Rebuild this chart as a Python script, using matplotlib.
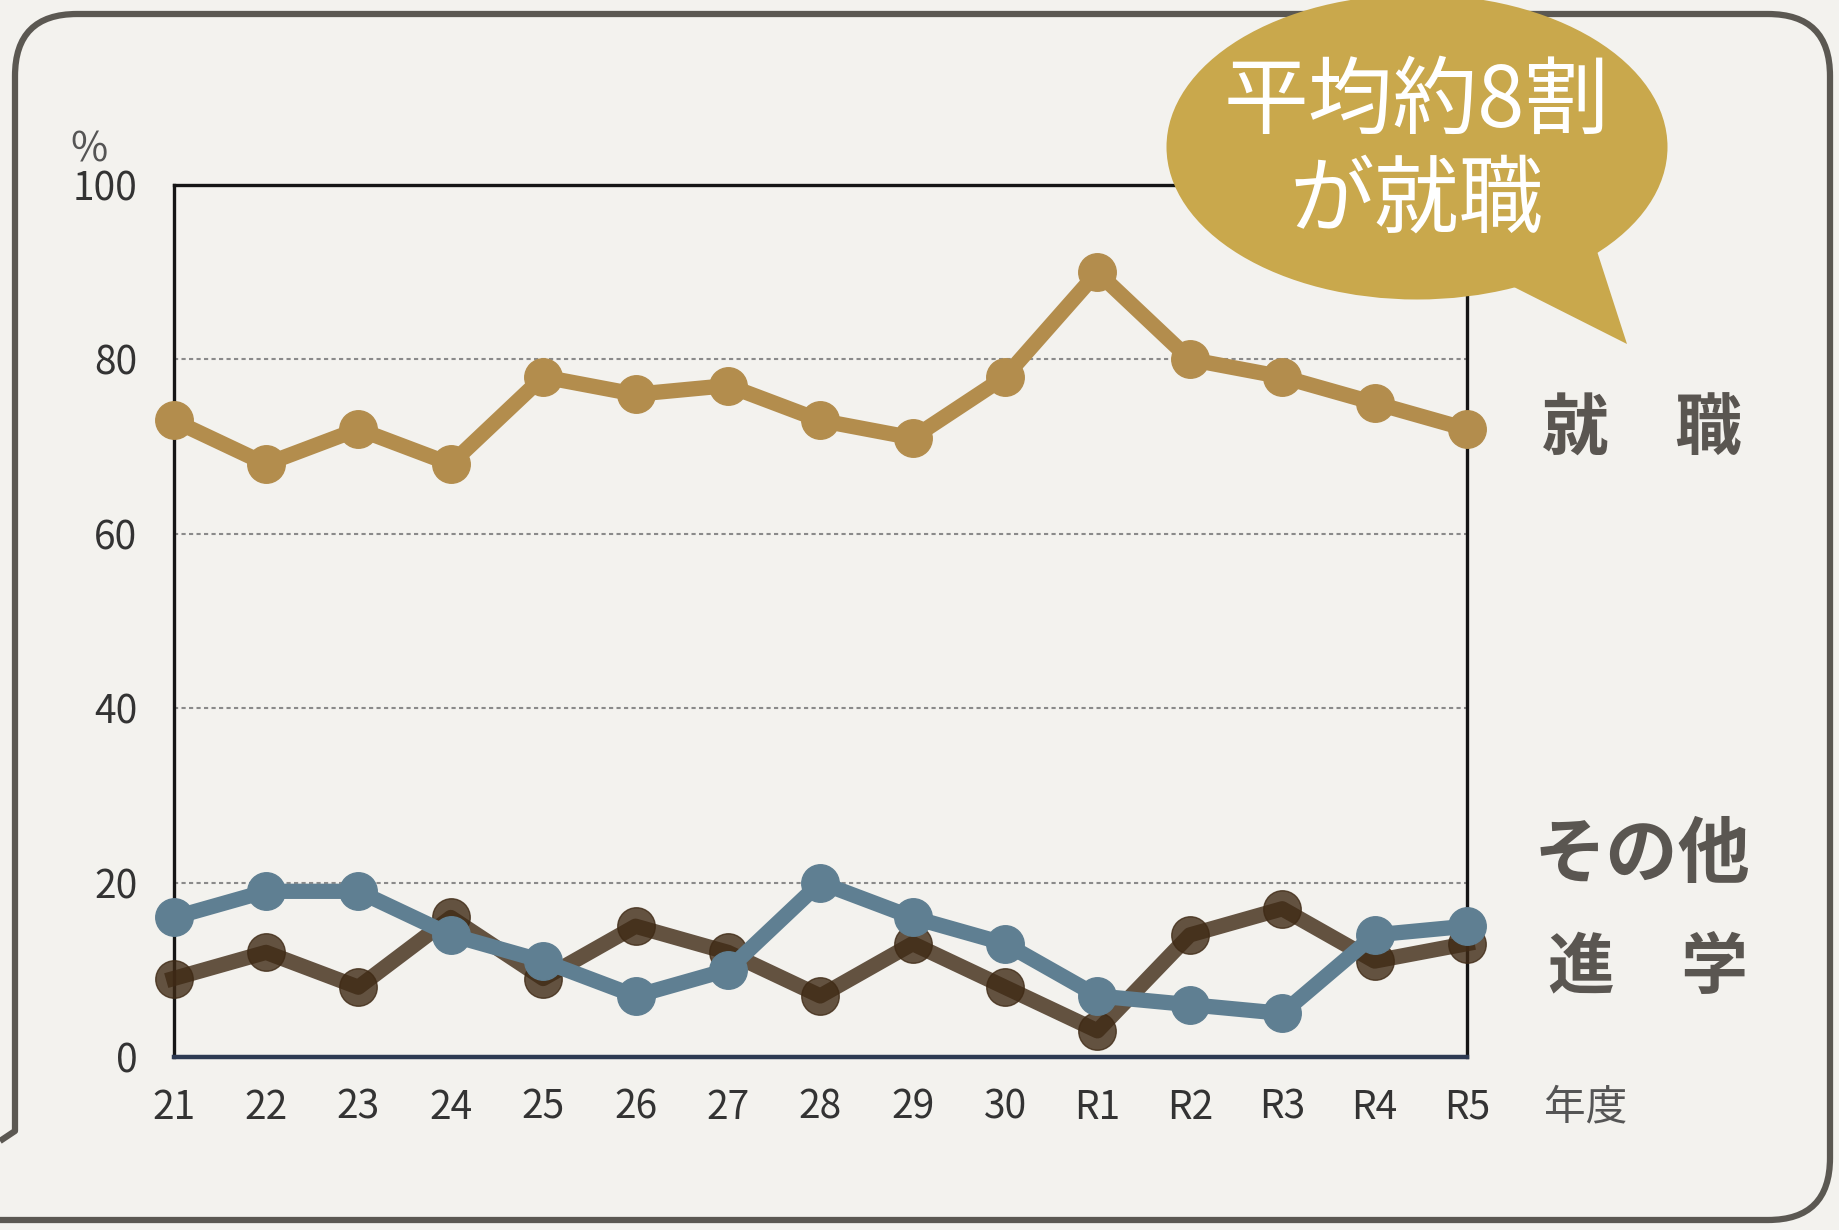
import numpy as np
import matplotlib.pyplot as plt
from matplotlib.patches import Ellipse, Polygon, PathPatch
from matplotlib.path import Path

plt.rcParams['font.family'] = ['Noto Sans CJK JP', 'DejaVu Sans']

# 年度ごとの進路 (%)
years = ['21', '22', '23', '24', '25', '26', '27', '28', '29', '30',
         'R1', 'R2', 'R3', 'R4', 'R5']
shushoku = [73, 68, 72, 68, 78, 76, 77, 73, 71, 78, 90, 80, 78, 75, 72]
shingaku = [9, 12, 8, 16, 9, 15, 12, 7, 13, 8, 3, 14, 17, 11, 13]
sonota = [16, 19, 19, 14, 11, 7, 10, 20, 16, 13, 7, 6, 5, 14, 15]
yticks = [0, 20, 40, 60, 80, 100]

W, H = 1839, 1230
bg = '#f3f2ee'
frame_col = '#5b5852'
gold = '#b38d4d'
brown = '#3f2a15'
blue = '#5f7f92'
bubble = '#c9a84c'
label_col = '#5a5651'

fig = plt.figure(figsize=(W / 100, H / 100), dpi=100, facecolor=bg)

# メインのグラフ
ax = fig.add_axes([173.6 / W, 1 - 1057 / H, (1467 - 173.6) / W, (1057 - 185) / H])
ax.set_facecolor('none')
x = np.arange(len(years))
ax.plot(x, shingaku, color=brown, alpha=0.8, lw=11, marker='o', ms=27,
        clip_on=False, zorder=3)
ax.plot(x, sonota, color=blue, lw=11, marker='o', ms=27,
        clip_on=False, zorder=4)
ax.plot(x, shushoku, color=gold, lw=11, marker='o', ms=27,
        clip_on=False, zorder=5)

ax.set_xlim(0, len(years) - 1)
ax.set_ylim(0, 100)
ax.set_xticks(x)
ax.set_xticklabels(years)
ax.set_yticks(yticks)
ax.tick_params(length=0, labelsize=28, colors='#333333')
ax.tick_params(axis='x', pad=22)
ax.tick_params(axis='y', pad=26)
ax.grid(axis='y', color='#8a8a8a', lw=1.5, linestyle=(0, (2, 1.6)))
ax.set_axisbelow(True)
for s in ['left', 'top', 'right']:
    ax.spines[s].set_color('#151515')
    ax.spines[s].set_linewidth(2.4)
ax.spines['bottom'].set_color('#2d3a52')
ax.spines['bottom'].set_linewidth(3.2)

# 枠・吹き出し・ラベル用のオーバーレイ
ov = fig.add_axes([0, 0, 1, 1], zorder=10)
ov.set_xlim(0, W)
ov.set_ylim(H, 0)
ov.axis('off')
ov.patch.set_alpha(0)

r = 62
verts = [(0, 1141), (15, 1131), (15, 14 + r), (15, 14), (15 + r, 14),
         (1830 - r, 14), (1830, 14), (1830, 14 + r), (1830, 1220 - r),
         (1830, 1220), (1830 - r, 1220), (0, 1220)]
codes = [Path.MOVETO, Path.LINETO, Path.LINETO, Path.CURVE3, Path.CURVE3,
         Path.LINETO, Path.CURVE3, Path.CURVE3, Path.LINETO,
         Path.CURVE3, Path.CURVE3, Path.LINETO]
ov.add_patch(PathPatch(Path(verts, codes), fill=False, ec=frame_col, lw=4.5,
                       joinstyle='round'))

ov.add_patch(Polygon([(1500, 280), (1595, 245), (1627, 344)], closed=True,
                     fc=bubble, ec='none'))
ov.add_patch(Ellipse((1417, 147), 501, 305, fc=bubble, ec='none'))
ov.text(1417, 103, '平均約8割', color='white', fontsize=61,
        ha='center', va='center')
ov.text(1417, 201, 'が就職', color='white', fontsize=61,
        ha='center', va='center')

ov.text(1642, 430, '就　職', color=label_col, fontsize=48,
        fontweight='bold', ha='center', va='center')
ov.text(1642, 856, 'その他', color=label_col, fontsize=52,
        fontweight='bold', ha='center', va='center')
ov.text(1648, 968, '進　学', color=label_col, fontsize=48,
        fontweight='bold', ha='center', va='center')
ov.text(1586, 1108, '年度', color='#555555', fontsize=30,
        ha='center', va='center')
ov.text(89, 150, '%', color='#555555', fontsize=29,
        ha='center', va='center')

fig.savefig('out.png', dpi=100, facecolor=bg)
